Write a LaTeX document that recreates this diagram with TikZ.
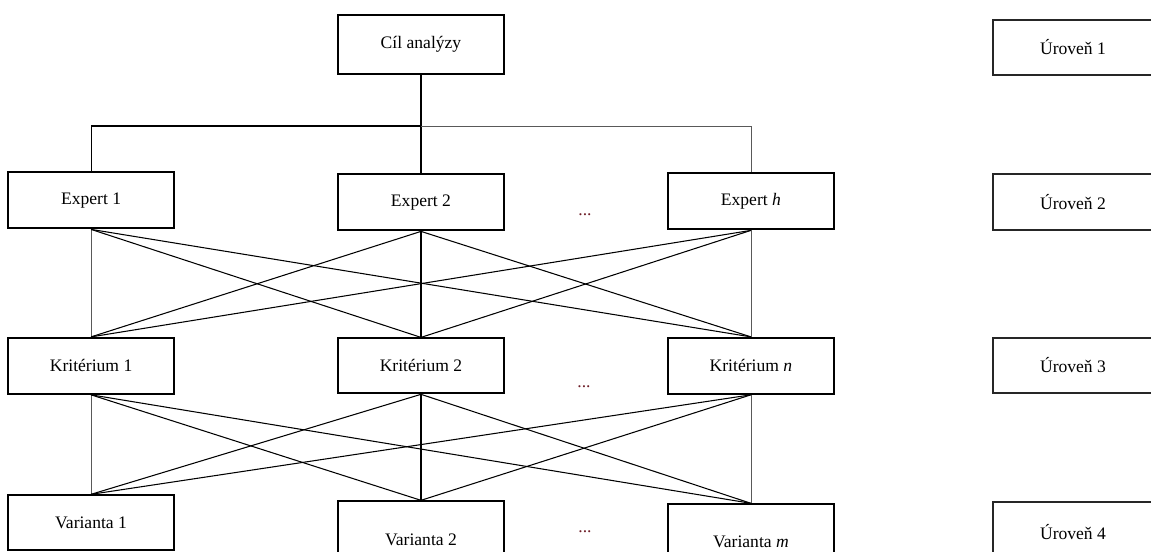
\documentclass[tikz,border=0pt]{standalone}
\usepackage{fontspec}
\setmainfont{Liberation Serif}
\usetikzlibrary{positioning}
\definecolor{dotred}{RGB}{110,30,40}
\tikzset{
  box/.style={draw, line width=1.1pt, fill=white, minimum width=3.32cm, minimum height=1.12cm, font=\fontsize{10}{12}\selectfont},
  levelbox/.style={draw, line width=0.9pt, draw=black!85, minimum width=3.2cm, minimum height=1.1cm, font=\fontsize{10}{12}\selectfont},
  link/.style={line width=0.6pt},
  sidelink/.style={line width=0.45pt, draw=black!65},
  gap/.style={text=dotred, font=\fontsize{10}{12}\selectfont}
}

\begin{document}
\begin{tikzpicture}
\useasboundingbox (0,0) rectangle (23.02,-11.04);
\clip (0,0) rectangle (23.02,-11.04);

% hierarchy
\node (goal) [box, minimum height=1.18cm] at (8.42,-0.89) {Cíl analýzy};
\node (E2) [box, below=1.97cm of goal] {Expert 2};
\node (E1) [box, left=3.24cm of E2, yshift=0.04cm] {Expert 1};
\node (Eh) [box, right=3.24cm of E2, yshift=0.02cm] {Expert \textit{h}};
\node (K2) [box, below=2.12cm of E2, minimum height=1.1cm] {Kritérium 2};
\node (K1) [box, left=3.24cm of K2] {Kritérium 1};
\node (Kn) [box, right=3.24cm of K2] {Kritérium \textit{n}};
\node (V1) [box, below=1.99cm of K1, minimum height=1.1cm] {Varianta 1};
\node (V2) [box, below=2.12cm of K2, minimum height=1.56cm] {Varianta 2};
\node (Vm) [box, below=2.17cm of Kn, minimum height=1.52cm] {Varianta \textit{m}};

% dots between columns
\node (dE) [gap] at (11.7,-4.3) {...};
\node (dK) [gap] at (11.68,-7.74) {...};
\node (dV) [gap] at (11.7,-10.64) {...};

% levels
\node (L1) [levelbox] at (21.46,-0.95) {Úroveň 1};
\node (L2) [levelbox, minimum height=1.12cm] at (21.46,-4.04) {Úroveň 2};
\node (L3) [levelbox] at (21.46,-7.31) {Úroveň 3};
\node (L4) [levelbox, minimum height=1.2cm] at (21.46,-10.64) {Úroveň 4};

% goal to experts
\coordinate (bus) at (8.42,-2.52);
\path [draw, link] (goal) -- (bus);
\path [draw, link] (bus) -- (E2);
\path [draw, link] (bus) -| (E1.north);
\path [draw, sidelink] (bus) -| (Eh.north);

% experts to criteria, criteria to variants
\path [draw, link] (E2) -- (K2);
\path [draw, link] (K2) -- (V2);
\foreach \a/\b in {E1/K1, Eh/Kn, K1/V1, Kn/Vm}
  \path [draw, sidelink] (\a) -- (\b);
\foreach \a/\b in {E1/K2, E1/Kn, E2/K1, E2/Kn, Eh/K1, Eh/K2,
                   K1/V2, K1/Vm, K2/V1, K2/Vm, Kn/V1, Kn/V2}
  \path [draw, link] (\a.south) -- (\b.north);
\end{tikzpicture}
\end{document}
